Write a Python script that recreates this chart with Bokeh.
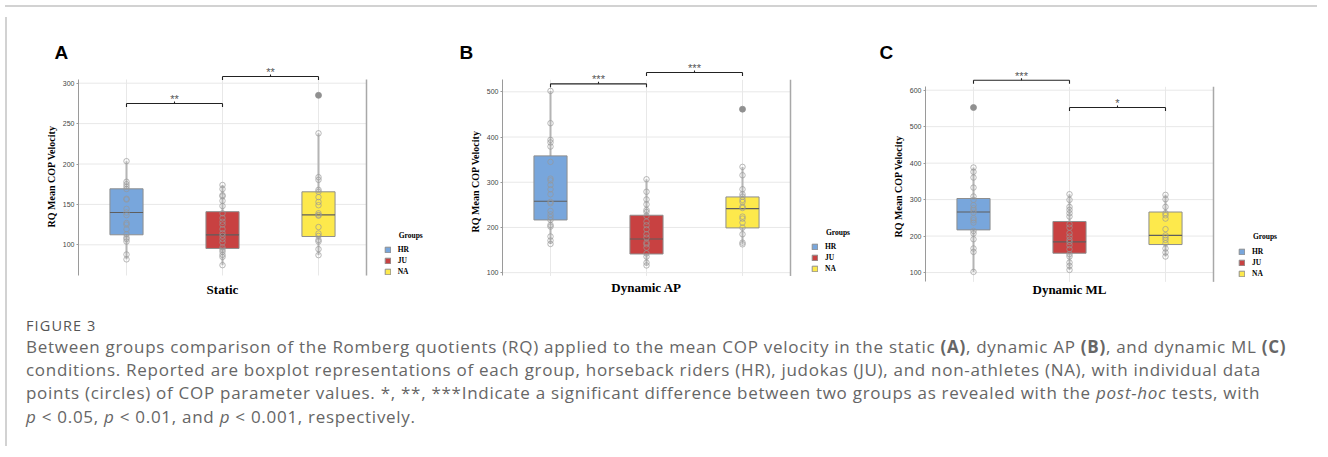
from bokeh.plotting import figure
from bokeh.models import Range1d, FixedTicker, Legend, LegendItem, Title, Div
from bokeh.layouts import row, column
from bokeh.embed import file_html
from bokeh.resources import INLINE
from bokeh.core.properties import value

groups = ["HR", "JU", "NA"]
group_colors = ["#78a6dc", "#c84141", "#fde94c"]

# ---------------- Panel A : Static ----------------
static_ticks = [100, 150, 200, 250, 300]
static_q1 = [112.4, 95.5, 110.3]
static_med = [140.0, 112.4, 137.0]
static_q3 = [169.3, 141.0, 165.6]
static_lo = [82.0, 74.8, 87.2]
static_hi = [203.5, 174.0, 238.0]
static_hr = [203.5, 178, 175, 172, 169, 157, 156, 144.5, 140, 136.7, 127, 125,
             119.4, 113, 109, 107, 104, 88, 82]
static_ju = [174, 169, 161.4, 160, 154.4, 148, 139, 133, 128.5, 125, 119.4, 114.4,
             111, 107, 103, 96.7, 94, 91.4, 87.6, 85, 74.8]
static_na = [238, 183.7, 180.4, 168, 165.6, 159, 153, 149, 139, 137, 136, 122, 114,
             111, 106, 104, 94.6, 87.2]
static_out_hr = []
static_out_ju = []
static_out_na = [285.0]
static_sig_a = [1, 2]
static_sig_b = [2, 3]
static_sig_y = [274.9, 308.3]
static_sig_text = ["**", "**"]

# ---------------- Panel B : Dynamic AP ----------------
ap_ticks = [100, 200, 300, 400, 500]
ap_q1 = [216.6, 141.3, 199.0]
ap_med = [258.0, 174.5, 241.7]
ap_q3 = [358.3, 227.0, 267.5]
ap_lo = [163.5, 116.0, 162.7]
ap_hi = [502.0, 306.6, 334.0]
ap_hr = [502, 430.6, 393.7, 388, 379, 345, 308, 304, 294, 284.5, 273.4, 256.5, 253.5,
         236.5, 229, 223, 216.6, 205.5, 202, 180, 171, 163.5]
ap_ju = [306.6, 279, 262, 251, 238.7, 234.3, 225.5, 213, 205, 196, 185, 177.5, 166.4,
         162.7, 155.4, 142.8, 135.5, 122, 116]
ap_na = [334, 315.5, 284.5, 273.4, 268, 261, 256.5, 246, 243, 224, 219.6, 210.7, 199.6,
         185, 166.4, 162.7]
ap_out_hr = []
ap_out_ju = []
ap_out_na = [461.6]
ap_sig_a = [1, 2]
ap_sig_b = [2, 3]
ap_sig_y = [517.7, 542.7]
ap_sig_text = ["***", "***"]

# ---------------- Panel C : Dynamic ML ----------------
ml_ticks = [100, 200, 300, 400, 500, 600]
ml_q1 = [217.0, 153.0, 176.8]
ml_med = [266.0, 184.0, 202.0]
ml_q3 = [303.0, 240.0, 266.0]
ml_lo = [101.8, 107.3, 144.0]
ml_hi = [388.0, 314.8, 313.0]
ml_hr = [388, 376, 360.5, 333, 308.4, 299.3, 284.6, 276.4, 271, 264.5, 249, 243.5, 237,
         214, 207, 191.4, 166, 156.7, 101.8]
ml_ju = [314.8, 299.3, 280, 271.8, 262.7, 253.6, 232.5, 223.4, 207.9, 198.7, 189.6, 184,
         175, 164, 150.3, 144, 127.4, 118.3, 107.3]
ml_na = [313, 301, 280, 262.7, 257, 248, 219, 202, 196, 189.6, 180.4, 166, 155, 144]
ml_out_hr = [552.5]
ml_out_ju = []
ml_out_na = []
ml_sig_a = [1, 2]
ml_sig_b = [2, 3]
ml_sig_y = [627.4, 552.6]
ml_sig_text = ["***", "*"]

SERIF = "Liberation Serif"
SANS = "Liberation Sans"
FIG_H = 290
TOP = 48          # frame starts 48px below the figure top
FRAME_H = FIG_H - TOP


def make_panel(letter, xtitle, ticks, q1, med, q3, lo, hi, pts, outs,
               sig_a, sig_b, sig_y, sig_text, g):
    x0 = g["x0"]
    lb = g["lb"]
    w = g["w"]
    frame_left = x0 + lb
    frame_w = w - lb
    ppu_x = 96.0
    yr = g["yr"]
    ppu_y = FRAME_H / (yr[1] - yr[0])

    def X(px):
        return 0.5 + (px - frame_left) / ppu_x

    def Y(py):
        return yr[1] - (py - (10 + TOP)) / ppu_y

    p = figure(width=w, height=FIG_H,
               x_range=Range1d(0.5, 0.5 + frame_w / ppu_x),
               y_range=Range1d(yr[0], yr[1]),
               output_backend="svg", toolbar_location=None,
               min_border_left=lb, min_border_right=0,
               min_border_top=TOP, min_border_bottom=0,
               outline_line_color=None, background_fill_color="white",
               border_fill_color="white")
    p.xgrid.visible = False
    p.ygrid.visible = False
    p.xaxis.visible = False

    # panel letter
    p.title.text = letter
    p.title.align = "left"
    p.title.offset = g["letter_off"]
    p.title.text_font = SANS
    p.title.text_font_size = "19px"
    p.title.text_font_style = "bold"
    p.title.text_color = "black"
    p.title.standoff = -4

    # y axis
    ax = p.yaxis[0]
    ax.ticker = FixedTicker(ticks=ticks)
    ax.bounds = g["bounds"]
    ax.axis_line_color = "#9a9a9a"
    ax.axis_line_width = 1
    ax.major_tick_line_color = "#9a9a9a"
    ax.major_tick_out = 2
    ax.major_tick_in = 0
    ax.minor_tick_line_color = None
    ax.major_label_text_font = SANS
    ax.major_label_text_font_size = "7px"
    ax.major_label_text_color = "#444444"
    ax.major_label_standoff = 2

    p.add_layout(Title(text="RQ Mean COP Velocity", align="left", offset=g["ylab_off"],
                       text_font=SERIF, text_font_size="10px", text_font_style="bold",
                       text_color="black", vertical_align="bottom", standoff=6), "left")

    blo, bhi = g["bounds"]
    cats = [1, 2, 3]
    # grid
    p.segment(x0=[0.5] * len(ticks), x1=[3.5] * len(ticks), y0=ticks, y1=ticks,
              line_color="#e8e8e8", line_width=1)
    p.segment(x0=cats, x1=cats, y0=[blo] * 3, y1=[bhi] * 3,
              line_color="#e8e8e8", line_width=1)
    # right border of panel
    p.segment(x0=[3.5], x1=[3.5], y0=[blo], y1=[bhi], line_color="#a8a8a8", line_width=1.5)

    # whiskers
    p.segment(x0=cats, x1=cats, y0=q3, y1=hi, line_color="#b4b4b4", line_width=2)
    p.segment(x0=cats, x1=cats, y0=q1, y1=lo, line_color="#b4b4b4", line_width=2)

    bw = 0.345
    box_renderers = []
    for i, c in enumerate(cats):
        r = p.vbar(x=[c], width=bw, bottom=[q1[i]], top=[q3[i]],
                   fill_color=group_colors[i], line_color="#8e8e8e", line_width=1)
        box_renderers.append(r)
    p.segment(x0=[c - bw / 2 for c in cats], x1=[c + bw / 2 for c in cats], y0=med, y1=med,
              line_color="#5e5e5e", line_width=1.2)

    for i, c in enumerate(cats):
        p.scatter(x=[c] * len(pts[i]), y=pts[i], marker="circle", size=5.5,
                  fill_color=None, line_color="#979797", line_width=0.8, line_alpha=0.85)
        if outs[i]:
            p.scatter(x=[c] * len(outs[i]), y=outs[i], marker="circle", size=6,
                      fill_color="#909090", line_color="#909090", line_width=0.8)

    # significance brackets
    drop = 3.5 / ppu_y
    tip = 2.0 / ppu_y
    mids = [(a + b) / 2 for a, b in zip(sig_a, sig_b)]
    p.segment(x0=sig_a, x1=sig_b, y0=sig_y, y1=sig_y, line_color="#222222", line_width=1.1)
    p.segment(x0=sig_a, x1=sig_a, y0=sig_y, y1=[y - drop for y in sig_y],
              line_color="#222222", line_width=1.1)
    p.segment(x0=sig_b, x1=sig_b, y0=sig_y, y1=[y - drop for y in sig_y],
              line_color="#222222", line_width=1.1)
    p.segment(x0=mids, x1=mids, y0=sig_y, y1=[y + tip for y in sig_y],
              line_color="#222222", line_width=1.1)
    p.text(x=mids, y=sig_y, text=sig_text, text_align="center", text_baseline="alphabetic",
           y_offset=-4.5, text_font=value(SANS), text_font_size="11px",
           text_color="#555555")

    # x title
    p.text(x=[2], y=[Y(g["xt_py"])], text=[xtitle], text_align="center",
           text_baseline="middle", text_font=value(SERIF), text_font_size="13px",
           text_font_style="bold", text_color="black")

    # legend
    legend = Legend(items=[LegendItem(label=groups[i], renderers=[box_renderers[i]])
                           for i in range(3)],
                    location=(g["leg_x"] - frame_left, 10 + FIG_H - g["leg_bottom"]),
                    orientation="vertical", padding=0, margin=0, spacing=2,
                    glyph_width=7, glyph_height=7, label_height=7, label_standoff=7,
                    label_text_font=SERIF, label_text_font_size="7.5px",
                    label_text_font_style="bold", label_text_color="black",
                    border_line_color=None, background_fill_alpha=0)
    p.add_layout(legend, "center")
    p.text(x=[X(g["leg_x"] + 14.5)], y=[Y(g["gt_py"])], text=["Groups"], text_align="left",
           text_baseline="middle", text_font=value(SERIF), text_font_size="7.5px",
           text_font_style="bold", text_color="black")
    return p


geoA = dict(x0=10, lb=66, w=430, yr=(28.6, 328.1), bounds=(62.0, 304.6),
            letter_off=-24, ylab_off=75, xt_py=286.7, leg_x=381.7, leg_bottom=274.0,
            gt_py=232.5)
geoB = dict(x0=440, lb=60, w=422, yr=(34.0, 569.3), bounds=(92.7, 526.6),
            letter_off=-43, ylab_off=70, xt_py=285.0, leg_x=809.0, leg_bottom=271.0,
            gt_py=229.5)
geoC = dict(x0=862, lb=61, w=458, yr=(17.9, 681.4), bounds=(74.5, 609.3),
            letter_off=-46, ylab_off=65, xt_py=287.0, leg_x=1236.0, leg_bottom=276.0,
            gt_py=233.5)

pA = make_panel("A", "Static", static_ticks, static_q1, static_med, static_q3, static_lo,
                static_hi, [static_hr, static_ju, static_na],
                [static_out_hr, static_out_ju, static_out_na],
                static_sig_a, static_sig_b, static_sig_y, static_sig_text, geoA)
pB = make_panel("B", "Dynamic AP", ap_ticks, ap_q1, ap_med, ap_q3, ap_lo, ap_hi,
                [ap_hr, ap_ju, ap_na], [ap_out_hr, ap_out_ju, ap_out_na],
                ap_sig_a, ap_sig_b, ap_sig_y, ap_sig_text, geoB)
pC = make_panel("C", "Dynamic ML", ml_ticks, ml_q1, ml_med, ml_q3, ml_lo, ml_hi,
                [ml_hr, ml_ju, ml_na], [ml_out_hr, ml_out_ju, ml_out_na],
                ml_sig_a, ml_sig_b, ml_sig_y, ml_sig_text, geoC)

caption_html = (
    '<div style="padding-left:9px;font-family:\'Open Sans\',sans-serif;color:#666666;">'
    '<div style="font-size:14.5px;line-height:18px;margin-top:9.5px;letter-spacing:1.1px;'
    'color:#555;font-weight:500;">FIGURE 3</div>'
    '<div style="font-size:17px;line-height:23.4px;white-space:nowrap;letter-spacing:0.72px;">'
    'Between groups comparison of the Romberg quotients (RQ) applied to the mean COP '
    'velocity in the static <b>(A)</b>, dynamic AP <b>(B)</b>, and dynamic ML <b>(C)</b><br>'
    'conditions. Reported are boxplot representations of each group, horseback riders (HR), '
    'judokas (JU), and non-athletes (NA), with individual data<br>'
    'points (circles) of COP parameter values. *, **, ***Indicate a significant difference '
    'between two groups as revealed with the <i>post-hoc</i> tests, with<br>'
    '<i>p</i> &lt; 0.05, <i>p</i> &lt; 0.01, and <i>p</i> &lt; 0.001, respectively.'
    '</div></div>'
)
caption = Div(text=caption_html, width=1310, height=139)

top_line = Div(text="", width=1312, height=2, styles={"background-color": "#d2d2d2"})
left_line = Div(text="", width=2, height=429, styles={"background-color": "#d2d2d2"})

layout = column(top_line, row(left_line, column(row(pA, pB, pC), caption)))

open("out.html", "w").write(file_html(layout, INLINE))
